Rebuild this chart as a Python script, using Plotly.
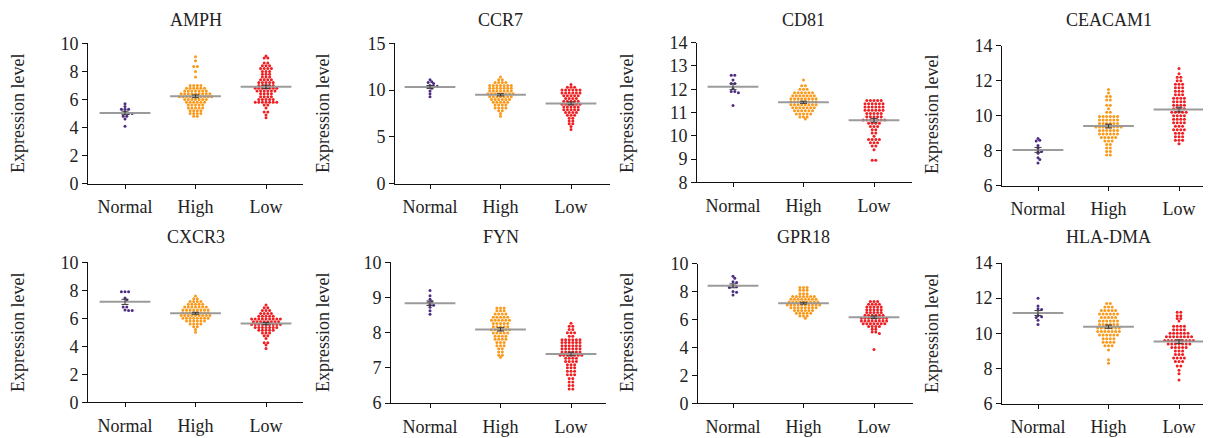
import numpy as np
import plotly.graph_objects as go

# ---------------- data ----------------
GENES = ["AMPH", "CCR7", "CD81", "CEACAM1", "CXCR3", "FYN", "GPR18", "HLA-DMA"]
GROUPS = ["Normal", "High", "Low"]
GROUP_COLORS = ["#4f2d84", "#f99a1c", "#ee2024"]

Y_RANGES = [[0, 10], [0, 15], [8, 14], [6, 14], [0, 10], [6, 10], [0, 10], [6, 14]]
Y_TICKS = [[0, 2, 4, 6, 8, 10], [0, 5, 10, 15], [8, 9, 10, 11, 12, 13, 14], [6, 8, 10, 12, 14],
           [0, 2, 4, 6, 8, 10], [6, 7, 8, 9, 10], [0, 2, 4, 6, 8, 10], [6, 8, 10, 12, 14]]

AMPH_NORMAL = [5.7, 5.5, 5.3, 5.3, 5.3, 5.1, 5.0, 5.0, 4.8, 4.8, 4.6, 4.1]
AMPH_HIGH = [9.05, 8.75, 8.35, 8.35, 8.0, 7.6,
             7.0, 7.0, 7.0, 7.0,
             6.8, 6.8, 6.8, 6.8, 6.8, 6.8,
             6.6, 6.6, 6.6, 6.6, 6.6, 6.6, 6.6,
             6.4, 6.4, 6.4, 6.4, 6.4, 6.4, 6.4, 6.4, 6.4,
             6.2, 6.2, 6.2, 6.2, 6.2, 6.2, 6.2, 6.2, 6.2, 6.2,
             6.0, 6.0, 6.0, 6.0, 6.0, 6.0, 6.0,
             5.8, 5.8, 5.8, 5.8, 5.8, 5.8,
             5.6, 5.6, 5.6, 5.6, 5.6,
             5.4, 5.4, 5.4, 5.4, 5.4,
             5.2, 5.2, 5.2, 5.2,
             5.0, 5.0, 5.0, 5.0,
             4.8, 4.8]
AMPH_LOW = [9.1, 8.95, 8.95, 8.6, 8.6, 8.4, 8.4, 8.4,
            8.2, 8.2, 8.2, 8.2, 8.0, 8.0, 8.0, 7.8, 7.8, 7.8,
            7.6, 7.6, 7.6, 7.4, 7.4, 7.4, 7.4,
            7.2, 7.2, 7.2, 7.2, 7.2, 7.0, 7.0, 7.0, 7.0, 7.0,
            6.8, 6.8, 6.8, 6.8, 6.8, 6.8, 6.8,
            6.6, 6.6, 6.6, 6.6, 6.6, 6.6,
            6.4, 6.4, 6.4, 6.4, 6.2, 6.2, 6.2, 6.2,
            6.0, 6.0, 6.0, 6.0, 6.0,
            5.8, 5.8, 5.8, 5.8, 5.8, 5.8, 5.8,
            5.6, 5.6, 5.4, 5.1, 5.1, 4.9, 4.7]

CCR7_NORMAL = [11.1, 10.9, 10.8, 10.7, 10.5, 10.4, 10.4, 10.3, 10.2, 9.9, 9.6, 9.3]
CCR7_HIGH = [11.4, 11.1, 11.1, 10.8, 10.8, 10.8, 10.8,
             10.5, 10.5, 10.5, 10.5, 10.5, 10.5, 10.5,
             10.2, 10.2, 10.2, 10.2, 10.2, 10.2, 10.2,
             9.9, 9.9, 9.9, 9.9, 9.9, 9.9, 9.9,
             9.6, 9.6, 9.6, 9.6, 9.6, 9.6, 9.6, 9.6,
             9.3, 9.3, 9.3, 9.3, 9.3, 9.3, 9.3,
             9.0, 9.0, 9.0, 9.0, 9.0, 9.0,
             8.7, 8.7, 8.7, 8.7, 8.7,
             8.4, 8.4, 8.4, 8.4, 8.1, 8.1, 8.1, 8.1,
             7.8, 7.8, 7.5, 7.2]
CCR7_LOW = [10.6, 10.3, 10.3, 10.3,
            10.0, 10.0, 10.0, 10.0, 10.0, 10.0,
            9.7, 9.7, 9.7, 9.7, 9.7, 9.7,
            9.4, 9.4, 9.4, 9.4, 9.4, 9.1, 9.1, 9.1, 9.1,
            8.8, 8.8, 8.8, 8.8, 8.8,
            8.5, 8.5, 8.5, 8.5, 8.5, 8.5,
            8.2, 8.2, 8.2, 8.2, 8.2, 7.9, 7.9, 7.9, 7.9, 7.9,
            7.6, 7.6, 7.6, 7.6, 7.3, 7.3, 7.3,
            7.0, 7.0, 6.7, 6.7, 6.4, 6.4, 6.1, 5.8]

CD81_NORMAL = [12.6, 12.6, 12.4, 12.25, 12.25, 12.05, 11.9, 11.9, 11.85, 11.3]
CD81_HIGH = [12.4, 12.15, 12.15, 12.0, 12.0, 12.0,
             11.85, 11.85, 11.85, 11.85, 11.85, 11.85,
             11.72, 11.72, 11.72, 11.72, 11.72, 11.72, 11.72,
             11.59, 11.59, 11.59, 11.59, 11.59, 11.59, 11.59, 11.59,
             11.46, 11.46, 11.46, 11.46, 11.46, 11.46, 11.46, 11.46,
             11.33, 11.33, 11.33, 11.33, 11.33, 11.33, 11.33, 11.33,
             11.2, 11.2, 11.2, 11.2, 11.2, 11.2, 11.2,
             11.07, 11.07, 11.07, 11.07, 11.07, 11.07,
             10.94, 10.94, 10.94, 10.94, 10.94,
             10.81, 10.81, 10.81, 10.72]
CD81_LOW = [11.52, 11.52, 11.52, 11.52, 11.52,
            11.38, 11.38, 11.38, 11.38, 11.38, 11.38,
            11.24, 11.24, 11.24, 11.24, 11.24, 11.24,
            11.1, 11.1, 11.1, 11.1, 11.1, 11.1,
            10.96, 10.96, 10.96, 10.96, 10.96,
            10.82, 10.82, 10.82, 10.82, 10.82,
            10.68, 10.68, 10.68, 10.68, 10.68, 10.68, 10.68,
            10.54, 10.54, 10.54, 10.54, 10.4, 10.4, 10.4,
            10.26, 10.26, 10.12, 10.12, 9.98,
            9.84, 9.84, 9.84, 9.84, 9.7, 9.7, 9.7,
            9.56, 9.56, 9.4, 8.95, 8.95]

CEACAM1_NORMAL = [8.7, 8.6, 8.55, 8.3, 8.15, 8.0, 7.95, 7.85, 7.6, 7.5, 7.3]
CEACAM1_HIGH = [11.5, 11.3, 11.1, 11.1, 10.9, 10.9, 10.6, 10.6, 10.4, 10.2, 10.2,
                9.95, 9.95, 9.95, 9.95, 9.95, 9.95,
                9.75, 9.75, 9.75, 9.75, 9.75, 9.75,
                9.55, 9.55, 9.55, 9.55, 9.55, 9.55,
                9.35, 9.35, 9.35, 9.35, 9.35, 9.35, 9.35, 9.35,
                9.15, 9.15, 9.15, 9.15, 9.15, 9.15,
                8.95, 8.95, 8.95, 8.95, 8.95, 8.95,
                8.75, 8.75, 8.75, 8.75, 8.75,
                8.55, 8.55, 8.55, 8.35, 8.35, 8.15, 8.15,
                7.95, 7.95, 7.75, 7.75]
CEACAM1_LOW = [12.7, 12.4, 12.2, 12.2, 12.0, 12.0,
               11.8, 11.8, 11.8, 11.6, 11.6, 11.6, 11.4, 11.4, 11.4,
               11.2, 11.2, 11.2, 11.0, 11.0, 11.0, 11.0,
               10.8, 10.8, 10.8, 10.8, 10.6, 10.6, 10.6, 10.6,
               10.4, 10.4, 10.4, 10.4, 10.2, 10.2, 10.2, 10.2, 10.2,
               10.0, 10.0, 10.0, 10.0, 9.8, 9.8, 9.8, 9.8,
               9.6, 9.6, 9.6, 9.6, 9.4, 9.4, 9.4,
               9.2, 9.2, 9.2, 9.2, 9.0, 9.0, 9.0,
               8.8, 8.8, 8.8, 8.6, 8.6, 8.6, 8.4]

CXCR3_NORMAL = [7.9, 7.9, 7.9, 7.45, 7.3, 6.8, 6.8, 6.6, 6.55, 6.55]
CXCR3_HIGH = [7.6, 7.4, 7.4, 7.2, 7.2, 7.2, 7.2,
              7.0, 7.0, 7.0, 7.0, 7.0,
              6.8, 6.8, 6.8, 6.8, 6.8, 6.8, 6.8,
              6.6, 6.6, 6.6, 6.6, 6.6, 6.6, 6.6, 6.6,
              6.4, 6.4, 6.4, 6.4, 6.4, 6.4, 6.4, 6.4,
              6.2, 6.2, 6.2, 6.2, 6.2, 6.2, 6.2, 6.2, 6.2,
              6.0, 6.0, 6.0, 6.0, 6.0, 6.0, 6.0, 6.0,
              5.8, 5.8, 5.8, 5.8, 5.8, 5.8,
              5.6, 5.6, 5.6, 5.6, 5.4, 5.4, 5.2, 5.0]
CXCR3_LOW = [6.95, 6.75, 6.75, 6.55, 6.55, 6.55,
             6.35, 6.35, 6.35, 6.35, 6.15, 6.15, 6.15, 6.15, 6.15,
             5.95, 5.95, 5.95, 5.95, 5.95, 5.95, 5.95, 5.95, 5.95,
             5.75, 5.75, 5.75, 5.75, 5.75, 5.75, 5.75, 5.75,
             5.55, 5.55, 5.55, 5.55, 5.55, 5.55, 5.55, 5.55, 5.55,
             5.35, 5.35, 5.35, 5.35, 5.35, 5.35, 5.35,
             5.15, 5.15, 5.15, 5.15, 5.15,
             4.95, 4.95, 4.95, 4.75, 4.75, 4.55,
             4.25, 4.25, 4.1, 3.85]

FYN_NORMAL = [9.2, 9.05, 8.95, 8.88, 8.85, 8.8, 8.78, 8.72, 8.62, 8.52]
FYN_HIGH = [8.7, 8.7, 8.7, 8.62, 8.62, 8.62,
            8.53, 8.53, 8.53, 8.53, 8.44, 8.44, 8.44, 8.44, 8.44,
            8.35, 8.35, 8.35, 8.35, 8.35, 8.35,
            8.26, 8.26, 8.26, 8.26, 8.26, 8.17, 8.17, 8.17, 8.17, 8.17,
            8.08, 8.08, 8.08, 8.08, 8.08, 8.08,
            7.99, 7.99, 7.99, 7.99, 7.99, 7.9, 7.9, 7.9, 7.9,
            7.81, 7.81, 7.81, 7.81, 7.72, 7.72, 7.72,
            7.63, 7.63, 7.63, 7.54, 7.54, 7.45, 7.45, 7.36, 7.36, 7.3]
FYN_LOW = [8.27, 8.18, 8.18, 8.09, 8.09, 8.0, 8.0, 8.0, 7.9, 7.9,
           7.8, 7.8, 7.8, 7.8, 7.8, 7.8,
           7.72, 7.72, 7.72, 7.72, 7.72, 7.72,
           7.63, 7.63, 7.63, 7.63, 7.63, 7.63,
           7.54, 7.54, 7.54, 7.54, 7.54, 7.54,
           7.45, 7.45, 7.45, 7.45, 7.45, 7.45,
           7.36, 7.36, 7.36, 7.36, 7.36, 7.36, 7.36,
           7.27, 7.27, 7.27, 7.27, 7.18, 7.18, 7.18, 7.18,
           7.09, 7.09, 7.09, 7.0, 7.0, 7.0, 6.9, 6.9, 6.9,
           6.8, 6.8, 6.8, 6.7, 6.7, 6.6, 6.6, 6.5, 6.5, 6.4, 6.4]

GPR18_NORMAL = [9.1, 8.95, 8.7, 8.65, 8.4, 8.35, 8.3, 8.0, 7.95, 7.75]
GPR18_HIGH = [8.3, 8.3, 8.3, 8.1, 8.1, 8.1, 7.85, 7.85, 7.85,
              7.65, 7.65, 7.65, 7.65, 7.65, 7.65, 7.65,
              7.45, 7.45, 7.45, 7.45, 7.45, 7.45, 7.45, 7.45,
              7.25, 7.25, 7.25, 7.25, 7.25, 7.25, 7.25, 7.25, 7.25,
              7.05, 7.05, 7.05, 7.05, 7.05, 7.05, 7.05, 7.05, 7.05, 7.05,
              6.85, 6.85, 6.85, 6.85, 6.85, 6.85, 6.85, 6.85,
              6.65, 6.65, 6.65, 6.65, 6.65, 6.65,
              6.45, 6.45, 6.45, 6.45, 6.45, 6.25, 6.25, 6.25, 6.1]
GPR18_LOW = [7.3, 7.3, 7.3, 7.1, 7.1, 7.1, 7.1,
             6.9, 6.9, 6.9, 6.9, 6.9, 6.7, 6.7, 6.7, 6.7, 6.7,
             6.5, 6.5, 6.5, 6.5, 6.5, 6.3, 6.3, 6.3, 6.3, 6.3, 6.3,
             6.1, 6.1, 6.1, 6.1, 6.1, 6.1, 6.1, 6.1,
             5.9, 5.9, 5.9, 5.9, 5.9, 5.9, 5.9, 5.9,
             5.7, 5.7, 5.7, 5.7, 5.7, 5.7, 5.7,
             5.5, 5.5, 5.5, 5.5, 5.3, 5.3, 5.1, 5.1, 5.0, 3.85]

HLA_DMA_NORMAL = [12.0, 11.55, 11.4, 11.35, 11.15, 11.0, 10.95, 10.9, 10.75, 10.5]
HLA_DMA_HIGH = [11.7, 11.7, 11.5, 11.5, 11.5,
                11.3, 11.3, 11.3, 11.3, 11.3,
                11.1, 11.1, 11.1, 11.1, 11.1, 11.1,
                10.9, 10.9, 10.9, 10.9, 10.9,
                10.7, 10.7, 10.7, 10.7, 10.7, 10.7,
                10.5, 10.5, 10.5, 10.5, 10.5, 10.5,
                10.3, 10.3, 10.3, 10.3, 10.3, 10.3, 10.3,
                10.1, 10.1, 10.1, 10.1, 10.1, 10.1, 10.1,
                9.9, 9.9, 9.9, 9.9, 9.9, 9.9,
                9.7, 9.7, 9.7, 9.7, 9.5, 9.5, 9.5, 9.5,
                9.3, 9.3, 9.3, 9.05, 8.5, 8.3]
HLA_DMA_LOW = [11.2, 11.2, 11.0, 11.0, 10.85, 10.85, 10.7,
               10.4, 10.4, 10.4, 10.4, 10.2, 10.2, 10.2, 10.2,
               10.0, 10.0, 10.0, 10.0, 10.0, 10.0,
               9.8, 9.8, 9.8, 9.8, 9.8, 9.8, 9.8, 9.8,
               9.6, 9.6, 9.6, 9.6, 9.6, 9.6, 9.6, 9.6, 9.6,
               9.4, 9.4, 9.4, 9.4, 9.4, 9.4, 9.4,
               9.2, 9.2, 9.2, 9.2, 9.2,
               9.0, 9.0, 9.0, 8.8, 8.8, 8.8,
               8.6, 8.6, 8.6, 8.6, 8.4, 8.4, 8.4,
               8.15, 8.15, 7.9, 7.7, 7.35]

DATA = [
    [AMPH_NORMAL, AMPH_HIGH, AMPH_LOW],
    [CCR7_NORMAL, CCR7_HIGH, CCR7_LOW],
    [CD81_NORMAL, CD81_HIGH, CD81_LOW],
    [CEACAM1_NORMAL, CEACAM1_HIGH, CEACAM1_LOW],
    [CXCR3_NORMAL, CXCR3_HIGH, CXCR3_LOW],
    [FYN_NORMAL, FYN_HIGH, FYN_LOW],
    [GPR18_NORMAL, GPR18_HIGH, GPR18_LOW],
    [HLA_DMA_NORMAL, HLA_DMA_HIGH, HLA_DMA_LOW],
]

# ---------------- layout geometry (target pixels in the window) ----------------
W, H = 1211, 438
PAGE_OFFSET = 8  # default body margin of the html page
# (axis left px, first category px, top px, bottom px)
PANELS = [
    (88, 125, 43.3, 183.7), (395, 430, 43.3, 183.7), (697, 733, 42.7, 182.3), (1002, 1038, 45.7, 185.7),
    (88, 125, 262.3, 402.3), (391, 430, 262.3, 403.0), (698, 733, 263.7, 403.3), (1002, 1038, 263.0, 403.7),
]
PX_PER_CAT = 70.5
AX_WIDTH = 215
TITLE_Y = [20, 237]
YTITLE_X = [18, 323, 627, 932]
YTITLE_Y = [114, 333]
FONT = "Liberation Serif"
FS = 18


def fx(px):
    return (px - PAGE_OFFSET) / W


def fy(py):
    return 1 - (py - PAGE_OFFSET) / H


def swarm_offsets(values, ppu_y, ppu_x, step_px=3.6, dia_px=2.5):
    """Beeswarm layout: equal values form a centred row, close rows are nudged sideways."""
    vals = np.asarray(values, dtype=float)
    offs = np.zeros(len(vals))
    placed = []
    shifts = [0.0]
    for j in range(1, 40):
        shifts += [j * step_px / 2, -j * step_px / 2]
    for val in sorted(set(vals.tolist()), reverse=True):
        idx = np.where(vals == val)[0]
        n = len(idx)
        base = [(i - (n - 1) / 2) * step_px for i in range(n)]
        ypx = val * ppu_y
        chosen = 0.0
        for s in shifts:
            if all((b + s - px) ** 2 + (ypx - py) ** 2 >= dia_px ** 2 for b in base for px, py in placed):
                chosen = s
                break
        for k, i in enumerate(idx):
            offs[i] = (base[k] + chosen) / ppu_x
            placed.append((base[k] + chosen, ypx))
    return offs


fig = go.Figure()
layout = dict(
    width=W, height=H, margin=dict(l=0, r=0, t=0, b=0, autoexpand=False),
    paper_bgcolor="white", plot_bgcolor="white", showlegend=False,
    font=dict(family=FONT, size=FS, color="#222"),
)
annotations = []

for p, gene in enumerate(GENES):
    L, c0, top, bot = PANELS[p]
    R = min(L + AX_WIDTH, W + PAGE_OFFSET)
    lo = -(c0 - L) / PX_PER_CAT
    hi = lo + (R - L) / PX_PER_CAT
    ymin, ymax = Y_RANGES[p]
    ppu_y = (bot - top) / (ymax - ymin)
    sfx = "" if p == 0 else str(p + 1)
    xa, ya = "x" + sfx, "y" + sfx

    layout["xaxis" + sfx] = dict(
        domain=[fx(L), min(fx(R), 1.0)], range=[lo, hi], anchor=ya, automargin=False,
        tickvals=[0, 1, 2], ticktext=GROUPS, showline=True, linecolor="#111", linewidth=1,
        ticks="outside", ticklen=4, tickcolor="#111", showgrid=False, zeroline=False,
        tickfont=dict(family=FONT, size=FS, color="#222"), ticklabelstandoff=3, fixedrange=True,
    )
    layout["yaxis" + sfx] = dict(
        domain=[fy(bot), fy(top)], range=[ymin, ymax], anchor=xa, automargin=False,
        tickvals=Y_TICKS[p], showline=True, linecolor="#111", linewidth=1,
        ticks="outside", ticklen=5, tickcolor="#111", showgrid=False, zeroline=False,
        tickfont=dict(family=FONT, size=FS, color="#222"), fixedrange=True,
    )

    for g, vals in enumerate(DATA[p]):
        v = np.asarray(vals, dtype=float)
        offs = swarm_offsets(v, ppu_y, PX_PER_CAT)
        fig.add_trace(go.Scatter(
            x=g + offs, y=v, mode="markers", xaxis=xa, yaxis=ya,
            marker=dict(size=3.0, color=GROUP_COLORS[g], line=dict(width=0)),
            hoverinfo="skip",
        ))
        m = v.mean()
        sem = v.std(ddof=1) / np.sqrt(len(v))
        fig.add_trace(go.Scatter(
            x=[g - 0.36, g + 0.36], y=[m, m], mode="lines", xaxis=xa, yaxis=ya,
            line=dict(color="rgba(150,150,150,0.95)", width=2), hoverinfo="skip",
        ))
        fig.add_trace(go.Scatter(
            x=[g, g, None, g - 0.05, g + 0.05, None, g - 0.05, g + 0.05],
            y=[m - sem, m + sem, None, m - sem, m - sem, None, m + sem, m + sem],
            mode="lines", xaxis=xa, yaxis=ya,
            line=dict(color="#3a3a3a", width=1), hoverinfo="skip",
        ))

    row = p // 4
    col = p % 4
    annotations.append(dict(
        text=gene, xref=xa, yref="paper", x=1, y=fy(TITLE_Y[row]),
        xanchor="center", yanchor="middle", showarrow=False,
        font=dict(family=FONT, size=FS, color="#222"),
    ))
    annotations.append(dict(
        text="Expression level", xref="paper", yref="paper",
        x=fx(YTITLE_X[col]), y=fy(YTITLE_Y[row]), textangle=-90,
        xanchor="center", yanchor="middle", showarrow=False,
        font=dict(family=FONT, size=FS, color="#222"),
    ))

layout["annotations"] = annotations
fig.update_layout(**layout)
fig.write_html("out.html")
